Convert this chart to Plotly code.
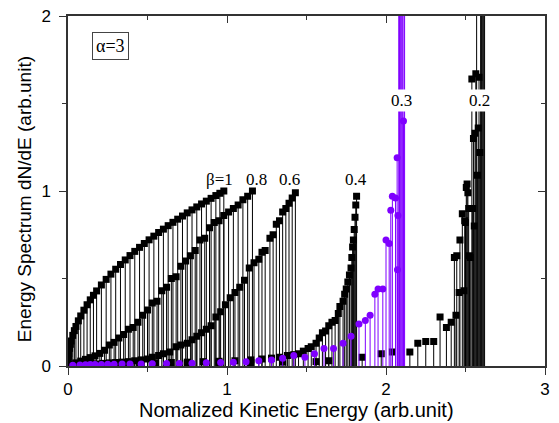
import plotly.graph_objects as go

# ---- data ----
e_b1 = [0.001, 0.003, 0.005, 0.01, 0.015, 0.02, 0.03, 0.04, 0.05, 0.065, 0.08, 0.10, 0.12, 0.14, 0.16, 0.18,
        0.21, 0.24, 0.27, 0.30, 0.33, 0.36, 0.39, 0.42, 0.45, 0.48, 0.51, 0.54, 0.57, 0.60, 0.63, 0.66,
        0.69, 0.72, 0.75, 0.78, 0.81, 0.84, 0.87, 0.90, 0.93, 0.955, 0.98]
n_b1 = [0.030, 0.055, 0.071, 0.101, 0.124, 0.143, 0.175, 0.202, 0.226, 0.258, 0.286, 0.319, 0.350, 0.378, 0.404, 0.429,
        0.463, 0.495, 0.525, 0.553, 0.580, 0.606, 0.631, 0.655, 0.678, 0.700, 0.721, 0.742, 0.763, 0.782, 0.802, 0.821,
        0.839, 0.857, 0.875, 0.892, 0.909, 0.926, 0.942, 0.958, 0.974, 0.987, 1.000]

e_b08 = [0.01, 0.03, 0.05, 0.08, 0.11, 0.14, 0.17, 0.20, 0.23, 0.26, 0.29, 0.32, 0.35, 0.38, 0.41, 0.44, 0.47, 0.50,
         0.53, 0.56, 0.59, 0.62, 0.65, 0.68, 0.71, 0.74, 0.77, 0.80, 0.83, 0.86, 0.89, 0.92, 0.95, 0.98, 1.01, 1.04,
         1.07, 1.10, 1.13, 1.16]
n_b08 = [0.005, 0.012, 0.018, 0.028, 0.038, 0.048, 0.058, 0.072, 0.090, 0.120, 0.135, 0.160, 0.180, 0.210, 0.220,
         0.250, 0.290, 0.320, 0.360, 0.370, 0.430, 0.450, 0.500, 0.510, 0.570, 0.600, 0.630, 0.660, 0.720, 0.730,
         0.790, 0.820, 0.830, 0.860, 0.880, 0.900, 0.920, 0.950, 0.970, 1.000]

e_b06 = [0.02, 0.06, 0.10, 0.14, 0.18, 0.22, 0.26, 0.30, 0.34, 0.38, 0.42, 0.46, 0.50, 0.53, 0.57, 0.60, 0.64, 0.68,
         0.71, 0.75, 0.78, 0.81, 0.84, 0.87, 0.90, 0.93, 0.96, 0.99, 1.02, 1.05, 1.08, 1.11, 1.14, 1.17, 1.20, 1.22,
         1.24, 1.27, 1.29, 1.31, 1.33, 1.35, 1.37, 1.39, 1.41, 1.43]
n_b06 = [0.003, 0.005, 0.008, 0.010, 0.012, 0.015, 0.018, 0.020, 0.022, 0.025, 0.030, 0.035, 0.040, 0.050, 0.060,
         0.070, 0.080, 0.110, 0.120, 0.130, 0.150, 0.170, 0.190, 0.210, 0.230, 0.280, 0.310, 0.350, 0.390, 0.420,
         0.450, 0.490, 0.560, 0.590, 0.610, 0.650, 0.660, 0.730, 0.750, 0.810, 0.830, 0.880, 0.900, 0.930, 0.960, 0.990]

e_b04 = [0.05, 0.15, 0.25, 0.35, 0.45, 0.55, 0.65, 0.75, 0.85, 0.95, 1.05, 1.15, 1.22, 1.28, 1.33, 1.38, 1.42, 1.45,
         1.48, 1.51, 1.53, 1.56, 1.58, 1.60, 1.62, 1.64, 1.66, 1.68, 1.70, 1.71, 1.73, 1.74, 1.75, 1.76, 1.77, 1.78,
         1.785, 1.79, 1.795, 1.80, 1.805, 1.81, 1.815]
n_b04 = [0.005, 0.008, 0.010, 0.012, 0.015, 0.018, 0.020, 0.022, 0.025, 0.027, 0.030, 0.035, 0.040, 0.045, 0.050,
         0.060, 0.065, 0.070, 0.085, 0.100, 0.110, 0.130, 0.160, 0.190, 0.200, 0.230, 0.250, 0.260, 0.300, 0.340,
         0.370, 0.410, 0.440, 0.480, 0.520, 0.560, 0.620, 0.680, 0.720, 0.780, 0.850, 0.920, 0.970]

e_b03 = [0.03, 0.075, 0.11, 0.14, 0.17, 0.21, 0.25, 0.29, 0.34, 0.39, 0.46, 0.53, 0.62, 0.70, 0.78, 0.87, 0.96, 1.04,
         1.12, 1.20, 1.28, 1.35, 1.42, 1.49, 1.55, 1.61, 1.67, 1.73, 1.78, 1.83, 1.87, 1.90, 1.93, 1.95, 1.98, 2.00,
         2.02, 2.03, 2.04, 2.06, 2.07, 2.072, 2.075, 2.08, 2.085, 2.09, 2.095, 2.10, 2.105, 2.11, 2.113, 2.117]
n_b03 = [0.005, 0.006, 0.007, 0.008, 0.008, 0.009, 0.010, 0.010, 0.011, 0.012, 0.012, 0.013, 0.014, 0.015, 0.016,
         0.018, 0.020, 0.022, 0.025, 0.030, 0.035, 0.045, 0.060, 0.050, 0.070, 0.100, 0.100, 0.130, 0.170, 0.240,
         0.260, 0.290, 0.410, 0.440, 0.440, 0.720, 0.700, 0.890, 0.970, 0.960, 1.190, 0.550, 0.860, 3.5, 4.0, 5.0,
         6.0, 5.0, 4.0, 1.400, 3.0, 2.5]

e_b02 = [0.15, 0.35, 0.55, 0.75, 0.95, 1.15, 1.35, 1.56, 1.64, 1.85, 1.97, 2.04, 2.15, 2.20, 2.25, 2.30, 2.34, 2.38,
         2.41, 2.43, 2.44, 2.445, 2.46, 2.465, 2.48, 2.49, 2.495, 2.50, 2.505, 2.51, 2.515, 2.52, 2.525, 2.53, 2.54,
         2.545, 2.55, 2.555, 2.56, 2.565, 2.57, 2.575, 2.58, 2.585, 2.59, 2.595, 2.60, 2.605, 2.61, 2.615, 2.62]
n_b02 = [0.008, 0.010, 0.012, 0.015, 0.018, 0.020, 0.022, 0.025, 0.030, 0.050, 0.070, 0.080, 0.080, 0.130, 0.140,
         0.140, 0.280, 0.220, 0.250, 0.620, 0.290, 0.630, 0.420, 0.720, 0.870, 0.430, 0.830, 0.820, 1.020, 1.040,
         0.990, 0.900, 0.630, 0.620, 1.640, 0.900, 1.300, 0.800, 1.330, 1.670, 3.0, 1.090, 1.360, 1.650, 1.220,
         4.0, 5.0, 6.0, 5.0, 4.0, 3.0]

series_labels = ["β=1", "0.8", "0.6", "0.4", "0.3", "0.2"]
label_x = [0.955, 1.185, 1.39, 1.81, 2.095, 2.585]
label_y = [1.065, 1.065, 1.065, 1.065, 1.52, 1.52]

x_title = "Nomalized Kinetic Energy (arb.unit)"
y_title = "Energy Spectrum dN/dE (arb.unit)"

BLACK = "black"
PURPLE = "#7F00FF"


def stem(x, y, color, symbol):
    return go.Scatter(
        x=x, y=y, mode="markers",
        marker=dict(symbol=symbol, size=7, color=color, line=dict(width=0)),
        error_y=dict(type="data", symmetric=False, array=[0] * len(y), arrayminus=y,
                     width=0, thickness=1, color=color),
        showlegend=False, hoverinfo="x+y",
    )


fig = go.Figure()
fig.add_trace(stem(e_b1, n_b1, BLACK, "square"))
fig.add_trace(stem(e_b08, n_b08, BLACK, "square"))
fig.add_trace(stem(e_b06, n_b06, BLACK, "square"))
fig.add_trace(stem(e_b04, n_b04, BLACK, "square"))
fig.add_trace(stem(e_b02, n_b02, BLACK, "square"))
fig.add_trace(stem(e_b03, n_b03, PURPLE, "circle"))
# empty trace to carry the mirrored top/right axes
fig.add_trace(go.Scatter(x=[], y=[], xaxis="x2", yaxis="y2", showlegend=False))

SERIF = "Liberation Serif"
SANS = "Liberation Sans"

for i, (t, lx, ly) in enumerate(zip(series_labels, label_x, label_y)):
    fig.add_annotation(x=lx, y=ly, text=t, showarrow=False, xref="x", yref="y",
                       font=dict(family=SERIF, size=17, color="black"),
                       bgcolor="white" if i >= 4 else "rgba(0,0,0,0)", borderpad=1)

fig.add_annotation(x=0.27, y=1.83, text="α=3", showarrow=False, xref="x", yref="y",
                   font=dict(family=SERIF, size=18, color="black"),
                   bgcolor="white", bordercolor="#444", borderwidth=1, borderpad=3)

# axis titles
fig.add_annotation(x=0.478, y=-0.126, xref="paper", yref="paper", text=x_title, showarrow=False,
                   xanchor="center", yanchor="middle", font=dict(family=SANS, size=20, color="black"))
fig.add_annotation(x=-0.092, y=0.477, xref="paper", yref="paper", text=y_title, showarrow=False,
                   textangle=-90, xanchor="center", yanchor="middle", font=dict(family=SANS, size=19, color="black"))

axcol = "#333"
fig.update_layout(
    width=559, height=423,
    margin=dict(l=68, r=14, t=16, b=57),
    paper_bgcolor="white", plot_bgcolor="white",
    font=dict(family=SANS, size=16, color="black"),
    xaxis=dict(range=[0, 3], dtick=1, tick0=0, ticks="outside", ticklen=7, tickwidth=1, tickcolor=axcol,
               minor=dict(dtick=0.5, tick0=0, ticks="outside", ticklen=4, tickcolor=axcol),
               showline=True, linecolor=axcol, linewidth=1.5, showgrid=False, zeroline=False,
               automargin=False, tickfont=dict(family=SANS, size=17)),
    yaxis=dict(range=[0, 2], dtick=1, tick0=0, ticks="outside", ticklen=7, tickwidth=1, tickcolor=axcol,
               minor=dict(dtick=0.5, tick0=0, ticks="outside", ticklen=4, tickcolor=axcol),
               showline=True, linecolor=axcol, linewidth=1.5, showgrid=False, zeroline=False,
               automargin=False, tickfont=dict(family=SANS, size=17), ticklabelstandoff=5),
    xaxis2=dict(range=[0, 3], overlaying="x", side="top", anchor="y", dtick=1, tick0=0, ticks="inside",
                ticklen=7, tickcolor=axcol, minor=dict(dtick=0.5, tick0=0, ticks="inside", ticklen=4, tickcolor=axcol),
                showticklabels=False, showline=True, linecolor=axcol, linewidth=1.5, showgrid=False, zeroline=False,
                automargin=False),
    yaxis2=dict(range=[0, 2], overlaying="y", side="right", anchor="x", dtick=1, tick0=0, ticks="inside",
                ticklen=7, tickcolor=axcol, minor=dict(dtick=0.5, tick0=0, ticks="inside", ticklen=4, tickcolor=axcol),
                showticklabels=False, showline=True, linecolor=axcol, linewidth=1.5, showgrid=False, zeroline=False,
                automargin=False),
)

fig.write_html("out.html", config={"displayModeBar": False},
               post_script="document.body.style.margin='0px';document.body.style.padding='0px';")
